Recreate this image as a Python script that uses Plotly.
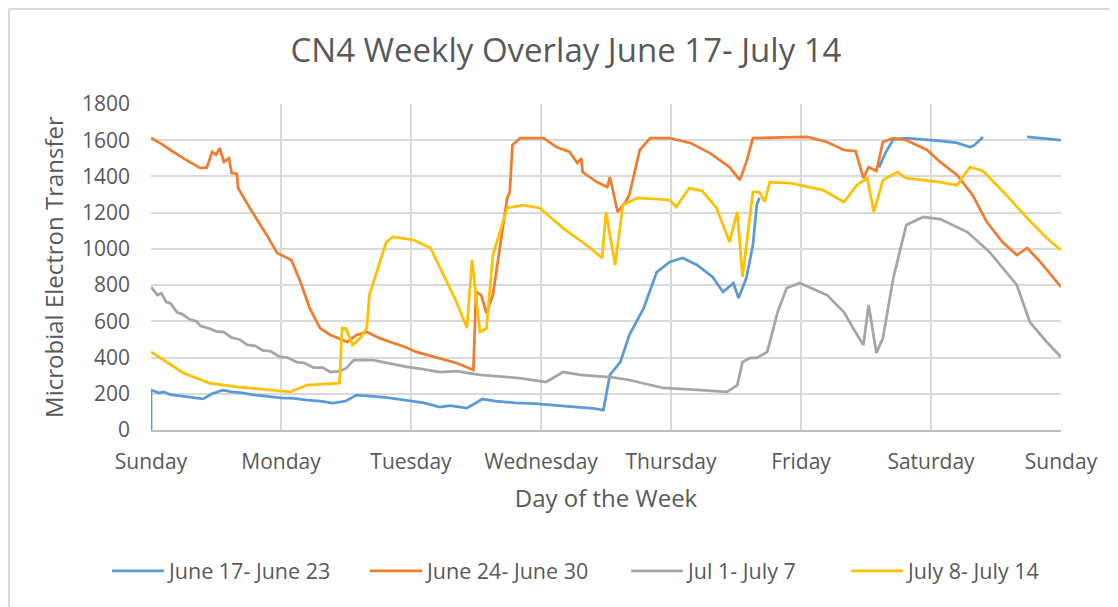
import plotly.graph_objects as go

day_labels = ["Sunday", "Monday", "Tuesday", "Wednesday", "Thursday", "Friday", "Saturday", "Sunday"]
day_positions = [0, 1, 2, 3, 4, 5, 6, 7]

series_names = ["June 17- June 23", "June 24- June 30", "Jul 1- July 7", "July 8- July 14"]
series_colors = ["#5B9BD5", "#ED7D31", "#A5A5A5", "#FFC000"]

june17_x = [0, 0, 0.06, 0.1, 0.15, 0.2, 0.28, 0.34, 0.4, 0.47, 0.55, 0.62, 0.7, 0.78, 0.85, 1.0, 1.1,
            1.2, 1.3, 1.4, 1.5, 1.58, 1.66, 1.8, 1.9, 2.0, 2.1, 2.22, 2.3, 2.43, 2.55, 2.65,
            2.8, 2.95, 3.1, 3.2, 3.3, 3.4, 3.48, 3.53, 3.61, 3.68, 3.79, 3.89, 3.99, 4.09, 4.2, 4.32, 4.4,
            4.48, 4.52, 4.58, 4.63, 4.66, 4.68, 4.7, 5.57, 5.6, 5.65, 5.71, 5.81, 6.07, 6.2, 6.3, 6.33,
            6.4, 6.5, 6.74, 6.85, 7.0]
june17_y = [0, 221, 205, 210, 195, 190, 185, 178, 172, 200, 220, 210, 205, 195, 190, 177, 175,
            165, 160, 149, 160, 193, 188, 180, 170, 160, 150, 127, 135, 121, 171, 160,
            150, 145, 135, 132, 125, 120, 110, 304, 375, 525, 673, 872, 928, 950, 911, 845, 762,
            811, 729, 840, 1021, 1242, 1281, None, None, 1450, 1530, 1605, 1612, 1596, 1585, 1562, 1570,
            1618, None, 1618, 1610, 1601]

june24_x = [0, 0.08, 0.15, 0.25, 0.38, 0.43, 0.47, 0.5, 0.53, 0.56, 0.6, 0.62, 0.66, 0.67, 0.76, 0.89,
            0.97, 1.08, 1.15, 1.22, 1.3, 1.38, 1.51, 1.58, 1.66, 1.75, 1.84, 1.95, 2.04, 2.12, 2.22, 2.35,
            2.48, 2.5, 2.54, 2.58, 2.63, 2.71, 2.74, 2.76, 2.78, 2.84, 3.02, 3.12, 3.22, 3.28, 3.31, 3.32,
            3.43, 3.51, 3.53, 3.59, 3.65, 3.68, 3.76, 3.84, 3.99, 4.15, 4.3, 4.45, 4.53, 4.58, 4.63, 5.05,
            5.2, 5.33, 5.42, 5.48, 5.52, 5.58, 5.63, 5.71, 5.81, 5.97, 6.07, 6.2, 6.32, 6.43, 6.55, 6.66,
            6.74, 6.84, 7.0]
june24_y = [1612, 1580, 1546, 1500, 1446, 1450, 1535, 1520, 1557, 1480, 1500, 1419, 1415, 1336, 1226, 1077,
            977, 939, 817, 674, 563, 525, 486, 525, 541, 510, 486, 460, 431, 415, 398, 370,
            331, 762, 745, 646, 745, 1148, 1281, 1314, 1573, 1612, 1612, 1562, 1535, 1474, 1500, 1424,
            1369, 1342, 1397, 1204, 1259, 1300, 1546, 1612, 1612, 1585, 1529, 1452, 1380, 1480, 1612, 1618,
            1590, 1546, 1540, 1391, 1452, 1430, 1590, 1612, 1600, 1546, 1480, 1408, 1297, 1148, 1038, 966,
            1005, 928, 790]

jul1_x = [0, 0.05, 0.08, 0.12, 0.15, 0.2, 0.24, 0.3, 0.35, 0.38, 0.45, 0.5, 0.56, 0.62, 0.68, 0.74,
          0.8, 0.86, 0.92, 0.99, 1.05, 1.12, 1.18, 1.25, 1.32, 1.38, 1.45, 1.5, 1.56, 1.71, 1.85, 1.97,
          2.1, 2.22, 2.35, 2.53, 2.7, 2.85, 3.04, 3.17, 3.3, 3.43, 3.55, 3.68, 3.8, 3.94, 4.2, 4.43, 4.51,
          4.55, 4.61, 4.66, 4.74, 4.82, 4.89, 4.99, 5.2, 5.33, 5.4, 5.48, 5.52, 5.58, 5.63, 5.71, 5.81,
          5.94, 6.07, 6.28, 6.45, 6.66, 6.76, 6.89, 7.0]
jul1_y = [790, 745, 755, 705, 700, 650, 640, 610, 600, 575, 560, 545, 540, 510, 500, 470,
          465, 440, 435, 405, 400, 375, 370, 345, 345, 320, 325, 340, 386, 386, 365, 348,
          335, 320, 325, 304, 295, 285, 265, 320, 305, 298, 290, 276, 255, 232, 221, 210, 248,
          375, 398, 398, 431, 651, 784, 812, 745, 651, 563, 469, 690, 425, 508, 839, 1132,
          1176, 1165, 1093, 983, 801, 596, 486, 403]

jul8_x = [0, 0.12, 0.25, 0.45, 0.68, 1.07, 1.2, 1.45, 1.47, 1.5, 1.55, 1.61, 1.66, 1.68, 1.81, 1.86,
          2.02, 2.15, 2.25, 2.35, 2.43, 2.47, 2.53, 2.58, 2.63, 2.74, 2.86, 2.99, 3.17, 3.38, 3.47, 3.5,
          3.57, 3.63, 3.74, 3.99, 4.04, 4.14, 4.24, 4.35, 4.45, 4.51, 4.55, 4.63, 4.68, 4.72, 4.76, 4.92,
          5.17, 5.33, 5.43, 5.51, 5.56, 5.63, 5.74, 5.81, 6.07, 6.2, 6.3, 6.4, 6.58, 6.74, 6.89, 7.0]
jul8_y = [431, 375, 315, 259, 237, 210, 248, 259, 563, 560, 469, 508, 563, 745, 1038, 1066,
          1049, 1005, 856, 707, 563, 939, 541, 560, 966, 1226, 1242, 1226, 1115, 1005, 950, 1204,
          911, 1242, 1281, 1270, 1231, 1336, 1320, 1226, 1038, 1204, 845, 1314, 1314, 1259, 1369, 1363,
          1325, 1259, 1352, 1391, 1204, 1380, 1424, 1391, 1369, 1352, 1452, 1430, 1297, 1170, 1060, 994]

xs = [june17_x, june24_x, jul1_x, jul8_x]
ys = [june17_y, june24_y, jul1_y, jul8_y]

# the page body has an 8px margin, so the figure is sized and placed to compensate
W, H = 1110, 599
txt = "#595959"

legend_ids = ["legend", "legend2", "legend3", "legend4"]
legend_left = [99, 357, 618, 838]  # px in figure coordinates

fig = go.Figure()
for name, color, x, y, lid in zip(series_names, series_colors, xs, ys, legend_ids):
    fig.add_trace(go.Scatter(x=x, y=y, mode="lines", name=name, legend=lid,
                             line=dict(color=color, width=2.75), connectgaps=False))

legend_layout = {}
for lid, lx in zip(legend_ids, legend_left):
    legend_layout[lid] = dict(orientation="h", xref="container", x=lx / W, xanchor="left",
                              yref="container", y=1 - 563 / H, yanchor="middle", itemwidth=52,
                              font=dict(size=21.5, color=txt), bgcolor="rgba(0,0,0,0)")

fig.update_layout(
    width=W, height=H,
    margin=dict(l=143, r=57, t=96, b=177, autoexpand=False),
    paper_bgcolor="white", plot_bgcolor="white",
    font=dict(family="Open Sans", color=txt, size=19),
    title=dict(text="CN4 Weekly Overlay June 17- July 14", x=558 / W, xanchor="center",
               y=1 - 42 / H, yanchor="middle", font=dict(size=33, color=txt)),
    showlegend=True,
    **legend_layout,
)
fig.update_xaxes(range=[0, 7], tickmode="array", tickvals=day_positions, ticktext=day_labels,
                 showgrid=True, gridcolor="#D9D9D9", gridwidth=1.5, zeroline=False,
                 showline=True, linecolor="#BFBFBF", linewidth=1.5, automargin=False,
                 tickfont=dict(size=21, color=txt), ticklabelstandoff=12,
                 title=dict(text="Day of the Week", font=dict(size=24, color=txt), standoff=16))
fig.update_yaxes(range=[0, 1800], tickmode="array", tickvals=list(range(0, 1801, 200)),
                 showgrid=True, gridcolor="#D9D9D9", gridwidth=1.5, zeroline=False,
                 showline=False, automargin=False, tickfont=dict(size=21, color=txt), ticklabelstandoff=20,
                 title=dict(text="Microbial Electron Transfer", font=dict(size=24, color=txt), standoff=11))
fig.add_shape(type="rect", xref="paper", yref="paper",
              x0=-142 / 910, x1=1.2, y0=-0.7, y1=1 + 95 / 326,
              line=dict(color="#D9D9D9", width=2), fillcolor="rgba(0,0,0,0)", layer="below")
fig.write_html("out.html")
